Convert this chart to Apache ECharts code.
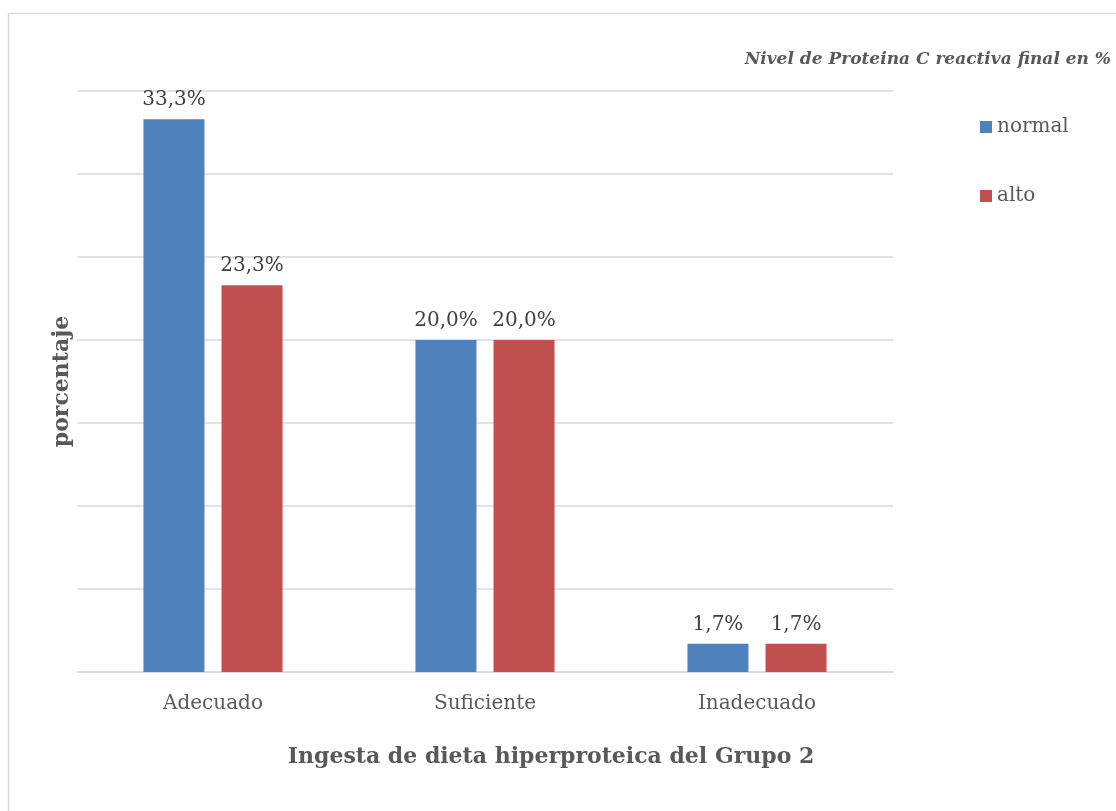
<!DOCTYPE html>
<html>
<head>
<meta charset="utf-8">
<script src="https://cdn.jsdelivr.net/npm/echarts@6/dist/echarts.min.js"></script>
<style>
  html, body { margin: 0; padding: 0; background: #fff; }
  #main { width: 1116px; height: 811px; }
</style>
</head>
<body>
<div id="main"></div>
<script>
var categories = ['Adecuado', 'Suficiente', 'Inadecuado'];
var normalValues = [33.3, 20.0, 1.7];
var altoValues = [23.3, 20.0, 1.7];

var myChart = echarts.init(document.getElementById('main'));
var serif = '"DejaVu Serif", "Liberation Serif", serif';

function pct(p) {
    return p.value.toFixed(1).replace('.', ',') + '%';
}

var option = {
    backgroundColor: '#fff',
    textStyle: { fontFamily: serif },
    graphic: [{
        type: 'rect',
        shape: { x: 8.5, y: 13.5, width: 1200, height: 900 },
        style: { fill: 'none', stroke: '#d9d9d9', lineWidth: 1.5 },
        silent: true
    }, {
        // titulo del eje x, centrado sobre el area del grafico (como Excel)
        type: 'text',
        x: 551,
        y: 757,
        style: {
            text: 'Ingesta de dieta hiperproteica del Grupo 2',
            align: 'center',
            verticalAlign: 'middle',
            font: 'bold 22px ' + serif,
            fill: '#595959'
        },
        silent: true
    }],
    title: {
        text: 'Nivel de Proteina C reactiva final en %',
        right: 0,
        top: 46,
        textStyle: {
            fontFamily: serif,
            fontSize: 17,
            fontWeight: 'bold',
            fontStyle: 'italic',
            color: '#595959'
        }
    },
    legend: {
        orient: 'vertical',
        left: 975,
        top: 112,
        itemWidth: 12,
        itemHeight: 12,
        itemGap: 49,
        icon: 'rect',
        textStyle: { fontFamily: serif, fontSize: 20, color: '#595959' },
        data: ['normal', 'alto']
    },
    grid: { left: 77, right: 223, top: 91, bottom: 139 },
    xAxis: {
        type: 'category',
        data: categories,
        axisLine: { lineStyle: { color: '#d9d9d9', width: 1.5 } },
        axisTick: { show: false },
        axisLabel: { margin: 22, fontFamily: serif, fontSize: 20, color: '#595959' }
    },
    yAxis: {
        type: 'value',
        min: 0,
        max: 35,
        interval: 5,
        name: 'porcentaje',
        nameLocation: 'middle',
        nameGap: 4,
        nameTextStyle: { fontFamily: serif, fontSize: 22, fontWeight: 'bold', color: '#595959' },
        axisLabel: { show: false },
        axisLine: { show: false },
        axisTick: { show: false },
        splitLine: { lineStyle: { color: '#d9d9d9', width: 1.5 } }
    },
    series: [{
        name: 'normal',
        type: 'bar',
        data: normalValues,
        barWidth: 61,
        barGap: '28%',
        itemStyle: { color: '#4f81bd' },
        label: { show: true, position: 'top', distance: 9, formatter: pct, fontFamily: serif, fontSize: 20, color: '#404040' }
    }, {
        name: 'alto',
        type: 'bar',
        data: altoValues,
        barWidth: 61,
        itemStyle: { color: '#c0504d' },
        label: { show: true, position: 'top', distance: 9, formatter: pct, fontFamily: serif, fontSize: 20, color: '#404040' }
    }]
};

myChart.setOption(option);
onresize = myChart.resize;
</script>
</body>
</html>
